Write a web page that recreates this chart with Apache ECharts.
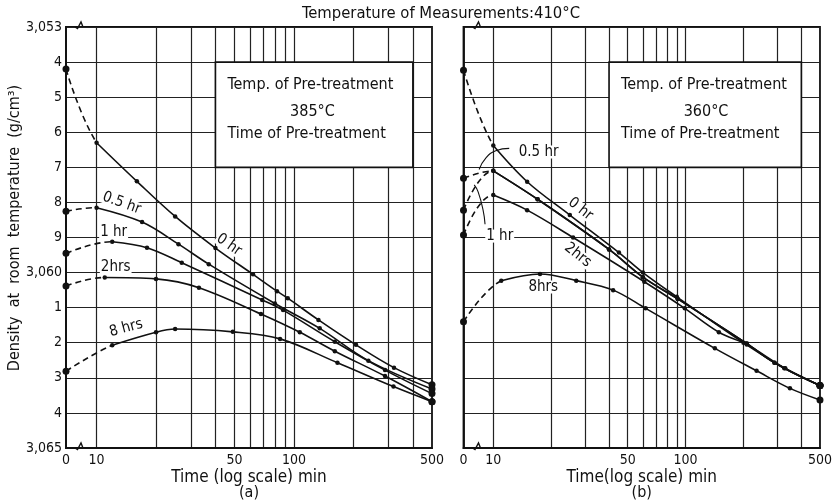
<!DOCTYPE html>
<html>
<head>
<meta charset="utf-8">
<script src="https://cdn.jsdelivr.net/npm/echarts@6/dist/echarts.min.js"></script>
<style>
  html, body { margin: 0; padding: 0; background: #fff; }
  #c { width: 835px; height: 503px; }
</style>
</head>
<body>
<div id="c"></div>
<script>
// Density change during ageing at 410 °C after pre-treatment.
// Time axis is logarithmic with a break: t = 0 is drawn at ZERO_AT.
const ZERO_AT = 7;
const X_MAX = 500;
const Y_MIN = 3.053;
const Y_MAX = 3.065;
const xGridTimes = [10, 20, 30, 40, 50, 60, 70, 80, 90, 100, 200, 300, 400];
const xTickTimes = [0, 10, 50, 100, 500];
const yTickLabels = ['3,053', '4', '5', '6', '7', '8', '9', '3,060', '1', '2', '3', '4', '3,065'];

// (a) pre-treatment at 385 °C — time (min) / density (g/cm³)
const a0hT = [0, 10, 16, 25, 40, 62, 82, 93, 133, 206, 321, 500];
const a0hD = [3.0542, 3.0563, 3.0574, 3.0584, 3.0593, 3.06005, 3.06053, 3.06073, 3.06135, 3.06206, 3.06271, 3.0632];
const a05T = [0, 10, 17, 26, 37, 80, 135, 238, 500];
const a05D = [3.05825, 3.05815, 3.05856, 3.05919, 3.05976, 3.06088, 3.06159, 3.06251, 3.06332];
const a1hT = [0, 12, 18, 27, 69, 88, 161, 289, 500];
const a1hD = [3.05945, 3.05912, 3.05929, 3.05972, 3.06078, 3.06107, 3.06197, 3.06278, 3.06345];
const a2hT = [0, 11, 20, 33, 68, 107, 161, 289, 500];
const a2hD = [3.06038, 3.06014, 3.06018, 3.06043, 3.06118, 3.0617, 3.06224, 3.06295, 3.06368];
const a8hT = [0, 12, 20, 25, 49, 85, 166, 319, 500];
const a8hD = [3.06281, 3.06207, 3.0617, 3.06161, 3.06169, 3.06189, 3.06257, 3.06325, 3.06368];

// (b) pre-treatment at 360 °C
const b0hT = [0, 10, 15, 25, 45, 60, 90, 200, 326, 500];
const b0hD = [3.05423, 3.05638, 3.05741, 3.05836, 3.05943, 3.06, 3.06069, 3.062, 3.06273, 3.06322];
const b05T = [0, 10, 17, 40, 60, 91, 208, 290, 500];
const b05D = [3.05731, 3.0571, 3.05791, 3.05934, 3.06013, 3.06075, 3.06202, 3.06257, 3.06322];
const b1hT = [0, 10, 17, 40, 60, 91, 208, 290, 500];
const b1hD = [3.05822, 3.0571, 3.05791, 3.05934, 3.06013, 3.06075, 3.06202, 3.06257, 3.06322];
const b2hT = [0, 10, 15, 26, 61, 99, 149, 208, 330, 500];
const b2hD = [3.05893, 3.05779, 3.05822, 3.059, 3.06026, 3.06102, 3.0617, 3.06205, 3.06273, 3.06322];
const b8hT = [0, 11, 17.5, 27, 42, 62, 142, 234, 349, 500];
const b8hD = [3.0614, 3.06023, 3.06004, 3.06023, 3.0605, 3.06102, 3.06216, 3.0628, 3.0633, 3.06363];

const FONT = "'DejaVu Sans Condensed', 'Liberation Sans Narrow', sans-serif";
const INK = '#111';

const panels = [
  {
    curves: [[a0hT, a0hD], [a05T, a05D], [a1hT, a1hD], [a2hT, a2hD], [a8hT, a8hD]],
    notes: [
      [46.8, 3.05921, '0 hr', -35],
      [13.4, 3.05802, '0.5 hr', -20],
      [12.2, 3.05884, '1 hr', 0],
      [12.5, 3.05983, '2hrs', 0],
      [14.1, 3.06158, '8 hrs', 15]
    ],
    leaders: [],
    boxTemp: '385°C'
  },
  {
    curves: [[b0hT, b0hD], [b05T, b05D], [b1hT, b1hD], [b2hT, b2hD], [b8hT, b8hD]],
    notes: [
      [17.2, 3.05656, '0.5 hr', 0],
      [10.8, 3.05896, '1 hr', 0],
      [28.4, 3.05819, '0 hr', -38],
      [27.5, 3.0595, '2hrs', -38],
      [18.2, 3.06041, '8hrs', 0]
    ],
    leaders: [
      [[12.1, 3.05646], [10.3, 3.05653], [9.16, 3.05673], [8.44, 3.05706]],
      [[9.06, 3.05862], [8.85, 3.05822], [8.34, 3.0577], [7.96, 3.0575]]
    ],
    boxTemp: '360°C'
  }
];

const grids = [
  { left: 66, right: 403, top: 27, bottom: 55, show: true, borderColor: INK, borderWidth: 1.8 },
  { left: 463.5, right: 6.5, top: 27, bottom: 55, show: true, borderColor: INK, borderWidth: 1.8 }
];

const xAxes = grids.map((g, i) => ({
  type: 'log', logBase: 10, gridIndex: i, min: ZERO_AT, max: X_MAX,
  axisLine: { show: true, lineStyle: { color: INK, width: 1.8 } },
  axisTick: { show: false, customValues: xGridTimes },
  splitLine: { show: true, lineStyle: { color: '#222', width: 1.2 } },
  axisLabel: {
    customValues: xTickTimes.map(t => (t === 0 ? ZERO_AT : t)),
    formatter: v => (Math.abs(v - ZERO_AT) < 0.01 ? '0' : String(Math.round(v))),
    color: INK, fontSize: 14, fontFamily: FONT, margin: 5
  }
}));

const yAxes = grids.map((g, i) => ({
  type: 'value', gridIndex: i, inverse: true, min: Y_MIN, max: Y_MAX, interval: 0.001,
  axisLine: { show: true, lineStyle: { color: INK, width: 1.8 } },
  axisTick: { show: false },
  splitLine: { show: true, lineStyle: { color: '#222', width: 1.2 } },
  axisLabel: {
    show: i === 0,
    formatter: v => yTickLabels[Math.round((v - Y_MIN) * 1000)],
    color: INK, fontSize: 14, fontFamily: FONT, margin: 4
  }
}));

const series = [];
const visualMaps = [];
const toPts = (T, D) => T.map((t, k) => [t === 0 ? ZERO_AT : t, D[k]]);

panels.forEach((p, gi) => {
  // white caption box sitting over the grid
  series.push({
    type: 'scatter', xAxisIndex: gi, yAxisIndex: gi, data: [], silent: true, z: 3,
    markArea: {
      silent: true,
      itemStyle: { color: '#fff', borderColor: INK, borderWidth: 1.6 },
      data: [[{ xAxis: 40, yAxis: 3.054 }, { xAxis: 400, yAxis: 3.057 }]]
    }
  });
  p.curves.forEach(([T, D]) => {
    const pts = toPts(T, D);
    // dashed start: stroke is visible only from t = 0 up to the first measured point
    visualMaps.push({
      type: 'piecewise', show: false, seriesIndex: series.length, dimension: 0,
      pieces: [
        { gte: 1, lte: pts[1][0], color: INK },
        { gt: pts[1][0], lte: 100000, color: 'rgba(0,0,0,0)' }
      ],
      outOfRange: { color: INK }
    });
    series.push({
      type: 'line', xAxisIndex: gi, yAxisIndex: gi, z: 4,
      data: pts.slice(0, 3), smooth: 0.4,
      lineStyle: { width: 1.6, type: [6, 4] },
      symbol: 'circle', symbolSize: v => (v[0] === ZERO_AT ? 7 : 0)
    });
    series.push({
      type: 'line', xAxisIndex: gi, yAxisIndex: gi, z: 5,
      data: pts.slice(1), smooth: 0.35,
      lineStyle: { color: INK, width: 1.6 },
      symbol: 'circle', symbolSize: v => (v[0] === X_MAX ? 7 : 4.5),
      itemStyle: { color: INK }
    });
  });
  p.leaders.forEach(L => {
    series.push({
      type: 'line', xAxisIndex: gi, yAxisIndex: gi, z: 5, data: L, smooth: 0.5,
      symbol: 'none', lineStyle: { color: INK, width: 1.1 }
    });
  });
  series.push({
    type: 'scatter', xAxisIndex: gi, yAxisIndex: gi, z: 6, symbolSize: 0,
    itemStyle: { opacity: 1 },
    data: p.notes.map(([t, v, txt, rot]) => ({
      value: [t, v],
      label: { formatter: txt, rotate: rot }
    })),
    label: {
      show: true, position: 'inside', color: INK, fontSize: 15, fontFamily: FONT,
      textBorderWidth: 0, backgroundColor: '#fff', padding: [0, 1], lineHeight: 13
    }
  });
});

const chart = echarts.init(document.getElementById('c'));
chart.setOption({
  animation: false,
  backgroundColor: '#fff',
  grid: grids,
  xAxis: xAxes,
  yAxis: yAxes,
  visualMap: visualMaps,
  series: series
});

// text and axis-break marks placed from the axes' own pixel mapping
const graphics = [];
const txt = (x, y, s, size, align, rot) => graphics.push({
  type: 'text', x: x, y: y, rotation: rot || 0, z: 50,
  style: { text: s, fill: INK, font: size + 'px ' + FONT, align: align || 'left', verticalAlign: 'middle' }
});

txt(441, 14, 'Temperature of Measurements:410°C', 16.5, 'center');
txt(15, 228, 'Density  at  room  temperature  (g/cm³)', 16, 'center', Math.PI / 2);

const xNames = ['Time (log scale) min', 'Time(log scale) min'];
const sub = ['(a)', '(b)'];
panels.forEach((p, gi) => {
  const tl = chart.convertToPixel({ gridIndex: gi }, [40, 3.054]);
  txt(tl[0] + 12, tl[1] + 23, 'Temp. of Pre-treatment', 16, 'left');
  txt(tl[0] + 97, tl[1] + 50, p.boxTemp, 16, 'center');
  txt(tl[0] + 12, tl[1] + 72, 'Time of Pre-treatment', 16, 'left');

  const left = chart.convertToPixel({ gridIndex: gi }, [ZERO_AT, Y_MIN]);
  const bottom = chart.convertToPixel({ gridIndex: gi }, [ZERO_AT, Y_MAX]);
  const mid = (chart.convertToPixel({ gridIndex: gi }, [X_MAX, Y_MAX])[0] + left[0]) / 2;
  txt(mid, 478, xNames[gi], 17, 'center');
  txt(mid, 493, sub[gi], 16, 'center');

  [left[1], bottom[1]].forEach(y => {
    const x = left[0];
    graphics.push({
      type: 'polyline', z: 50,
      shape: { points: [[x + 9, y], [x + 11.5, y + 1.5], [x + 15, y - 5], [x + 17, y]] },
      style: { stroke: INK, lineWidth: 1.4, fill: null }
    });
  });
});

chart.setOption({ graphic: graphics });
</script>
</body>
</html>
